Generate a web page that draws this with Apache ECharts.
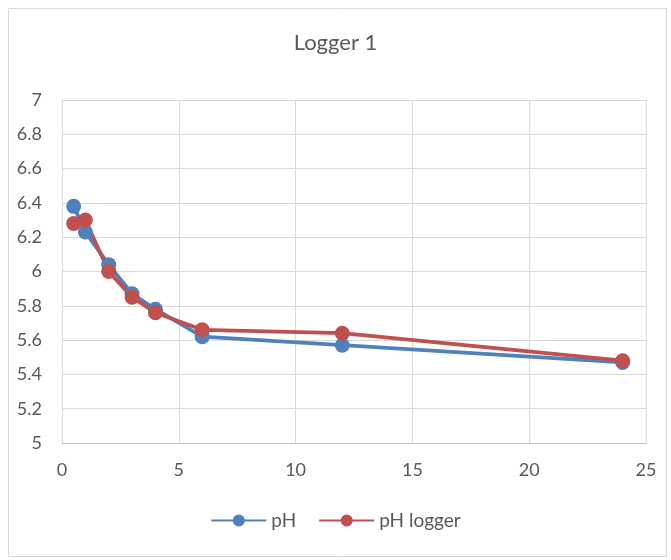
<!DOCTYPE html>
<html>
<head>
<meta charset="utf-8">
<script src="https://cdn.jsdelivr.net/npm/echarts@6/dist/echarts.min.js"></script>
<style>
html,body{margin:0;padding:0;background:#fff;}
#main{width:671px;height:560px;}
</style>
</head>
<body>
<div id="main"></div>
<script>
const times = [0.5, 1, 2, 3, 4, 6, 12, 24];
const phValues = [6.38, 6.23, 6.04, 5.87, 5.78, 5.62, 5.57, 5.47];
const phLoggerValues = [6.28, 6.30, 6.00, 5.85, 5.76, 5.66, 5.64, 5.48];
const seriesNames = ['pH', 'pH logger'];
const titleText = 'Logger 1';

const font = 'Lato, "Open Sans", sans-serif';
const chart = echarts.init(document.getElementById('main'));
const pair = (xs, ys) => xs.map((x, i) => [x, ys[i]]);

chart.setOption({
  backgroundColor: '#fff',
  animation: false,
  graphic: [{
    type: 'rect', left: 6, top: 6,
    shape: { width: 658, height: 548 },
    style: { fill: 'none', stroke: '#d9d9d9', lineWidth: 1 },
    silent: true
  }],
  title: {
    text: titleText, left: 'center', top: 27,
    textStyle: { fontFamily: font, fontSize: 22, fontWeight: 'normal', color: '#595959' }
  },
  legend: {
    bottom: 25, left: 'center',
    itemWidth: 55, itemHeight: 15, itemGap: 22,
    textStyle: { fontFamily: font, fontSize: 19, color: '#595959' },
    data: seriesNames
  },
  grid: { left: 62, right: 25, top: 100, bottom: 117, containLabel: false },
  xAxis: {
    type: 'value', min: 0, max: 25, interval: 5,
    axisLine: { show: true, lineStyle: { color: '#bfbfbf', width: 1 } },
    axisTick: { show: false },
    splitLine: { show: true, lineStyle: { color: '#d9d9d9', width: 1 } },
    axisLabel: { fontFamily: font, fontSize: 18, color: '#595959', margin: 18 }
  },
  yAxis: {
    type: 'value', min: 5, max: 7, interval: 0.2,
    axisLine: { show: true, lineStyle: { color: '#d9d9d9', width: 1 } },
    axisTick: { show: false },
    splitLine: { show: true, lineStyle: { color: '#d9d9d9', width: 1 } },
    axisLabel: { fontFamily: font, fontSize: 18, color: '#595959', margin: 20,
      formatter: v => String(Math.round(v * 10) / 10) }
  },
  series: [
    {
      name: seriesNames[0], type: 'line', data: pair(times, phValues),
      symbol: 'circle', symbolSize: 15,
      lineStyle: { color: '#4f81bd', width: 3.75 },
      itemStyle: { color: '#4f81bd' }
    },
    {
      name: seriesNames[1], type: 'line', data: pair(times, phLoggerValues),
      symbol: 'circle', symbolSize: 15,
      lineStyle: { color: '#c0504d', width: 3.75 },
      itemStyle: { color: '#c0504d' }
    }
  ]
});
</script>
</body>
</html>
